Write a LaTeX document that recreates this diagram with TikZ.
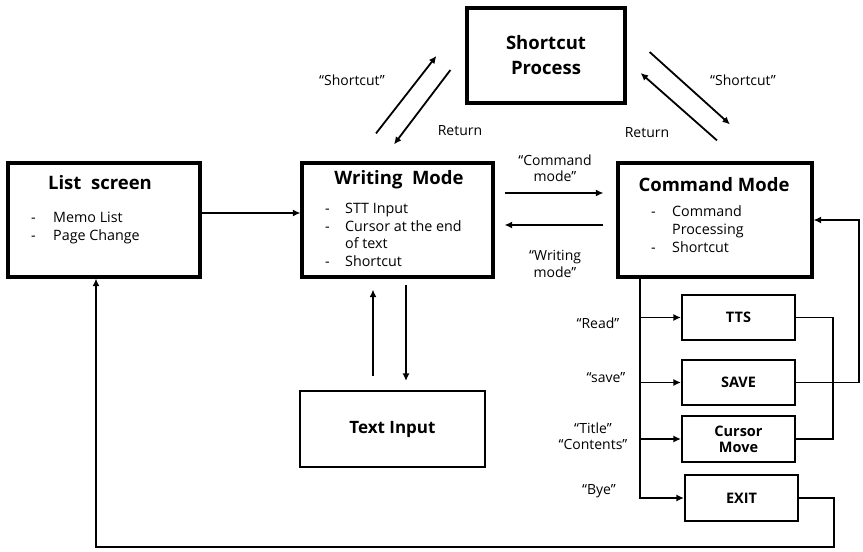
\documentclass[tikz,border=0pt]{standalone}
\usepackage{fontspec}
\setmainfont{Open Sans}
\usetikzlibrary{arrows.meta,calc}

\begin{document}
\begin{tikzpicture}[x=1pt,y=-1pt,bigbox/.style={draw=black,line width=3.2pt,inner sep=0pt},smallbox/.style={draw=black,line width=2.1pt,inner sep=0pt,align=center,font=\bfseries\fontsize{14.5}{17}\selectfont},boxtitle/.style={inner sep=0pt,font=\bfseries\fontsize{18.5}{21}\selectfont},items/.style={anchor=north west,inner sep=0pt,font=\fontsize{14.3}{18}\selectfont},lbl/.style={inner sep=0pt,align=center,font=\fontsize{14}{16.5}\selectfont},arr/.style={line width=1.8pt,-{Latex[length=7.5pt,width=7pt]}},wire/.style={line width=1.8pt}]
\def\bh{114};

\useasboundingbox (0,0) rectangle (863,552);

% main screens
\node[bigbox,minimum width=192,minimum height=\bh] (L) at (104,220) {};
\node[boxtitle] (Lt) at (100,183) {List\ \ screen};
\node[items] (Li) at (31,210) {\begin{tabular}{@{}p{22pt}@{}l@{}}- & Memo List\\- & Page Change\end{tabular}};

\node[bigbox,minimum width=191,minimum height=\bh] (W) at (397.5,220) {};
\node[boxtitle] (Wt) at (399,180) {Writing\ \ Mode};
\node[items,font=\fontsize{14.3}{17.6}\selectfont] (Wi) at (325,201) {\begin{tabular}{@{}p{20pt}@{}l@{}}- & STT Input\\- & Cursor at the end\\ & of text\\- & Shortcut\end{tabular}};

\node[bigbox,minimum width=194,minimum height=\bh] (C) at (715,220) {};
\node[boxtitle] (Ct) at (714,185) {Command Mode};
\node[items] (Ci) at (651,204) {\begin{tabular}{@{}p{21pt}@{}l@{}}- & Command\\ & Processing\\- & Shortcut\end{tabular}};

\node[bigbox,minimum width=158,minimum height=95,align=center,font=\bfseries\fontsize{18.5}{25}\selectfont] (S) at (546,55.5) {Shortcut\\Process};

\node[smallbox,minimum width=185,minimum height=76,font=\bfseries\fontsize{17}{20}\selectfont] (T) at (392.5,429) {Text Input};

% command results
\node[smallbox,minimum width=113,minimum height=45] (TT) at (738.5,317.5) {TTS};
\node[smallbox,minimum width=113,minimum height=45] (SV) at (738.5,382.5) {SAVE};
\node[smallbox,minimum width=113,minimum height=46,font=\bfseries\fontsize{14.5}{16}\selectfont] (CM) at (738.5,439) {Cursor\\Move};
\node[smallbox,minimum width=113,minimum height=46] (EX) at (741.5,498) {EXIT};

% screen changes
\draw[arr] ($(L.east)+(0,-7)$) -- ($(W.west)+(0,-7)$);
\draw[arr] ($(W.east)+(10,-27)$) -- ($(C.west)+(-13,-27)$);
\draw[arr] ($(C.west)+(-13,5)$) -- ($(W.east)+(10,5)$);
\node[lbl] (lc) at (555,168) {“Command\\mode”};
\node[lbl] (lw) at (555,264) {“Writing\\mode”};

\draw[arr] ($(T.north)+(-19.5,-14)$) -- ($(W.south)+(-24.5,11)$);
\draw[arr] ($(W.south)+(8.5,6)$) -- ($(T.north)+(13.5,-9)$);

% shortcut
\draw[arr] ($(W.north)+(-21.5,-28)$) -- ($(S.west)+(-29,0.5)$);
\draw[arr] ($(S.west)+(-15,14.5)$) -- ($(W.north)+(-3.5,-17)$);
\node[lbl] (ls1) at (352,80) {“Shortcut”};
\node[lbl] (lr1) at (460,131) {Return};
\draw[arr] ($(S.east)+(23,-3.5)$) -- ($(C.north)+(15,-37)$);
\draw[arr] ($(C.north)+(2,-21)$) -- ($(S.east)+(14,17.5)$);
\node[lbl] (ls2) at (743,80) {“Shortcut”};
\node[lbl] (lr2) at (647,133) {Return};

% commands
\coordinate (bus) at ($(C.south)+(-75,0)$);
\draw[arr] (bus) |- (EX.west);
\draw[arr] (bus |- TT.west) -- (TT.west);
\draw[arr] (bus |- SV.west) -- (SV.west);
\draw[arr] (bus |- CM.west) -- (CM.west);
\node[lbl] (lrd) at (598,323) {“Read”};
\node[lbl] (lsv) at (606,378) {“save”};
\node[lbl] (ltc) at (593,436) {“Title”\\“Contents”};
\node[lbl] (lby) at (599,491) {“Bye”};

% back to command mode
\draw[wire] (TT.east) -- ++(37,0) |- (CM.east);
\draw[arr] (SV.east) -- ++(63,0) |- (C.east);
% exit to list
\draw[arr] (EX.east) -- ++(35,0) -- ++(0,49) -| ($(L.south)+(-8,0)$);
\end{tikzpicture}
\end{document}
